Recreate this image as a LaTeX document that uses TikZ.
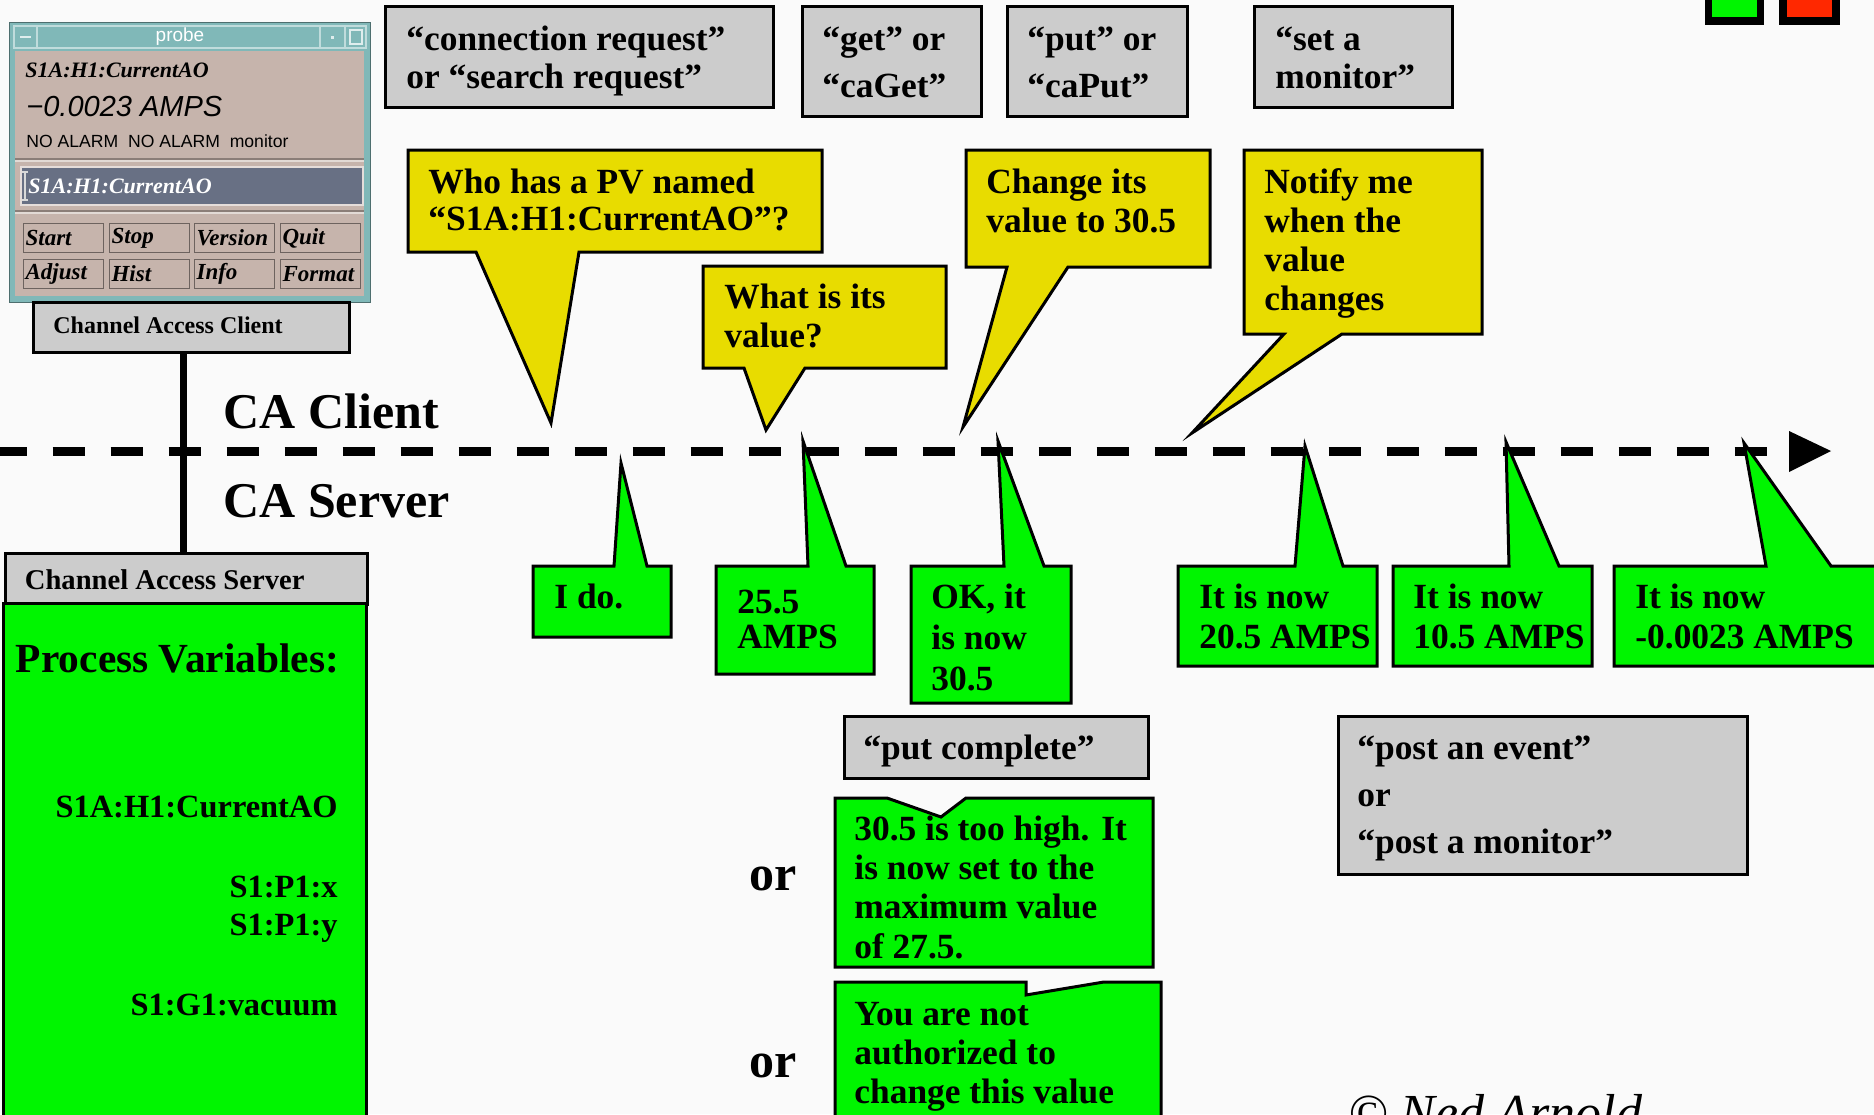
\documentclass[tikz,border=0pt]{standalone}
\usepackage{fontspec}
\setmainfont{Liberation Serif}
\setsansfont{Liberation Sans}
\definecolor{ylw}{RGB}{232,220,0}
\definecolor{grn}{RGB}{0,245,0}
\definecolor{gry}{RGB}{204,204,204}
\definecolor{teal1}{RGB}{128,184,184}
\definecolor{tan1}{RGB}{198,180,172}
\definecolor{fieldc}{RGB}{104,112,132}
\definecolor{bgc}{RGB}{250,250,250}
\definecolor{redsq}{RGB}{255,40,0}
\newcommand{\stk}[2][19.5pt]{\vtop{\baselineskip=#1\relax #2}}
\tikzset{
  big/.style={font=\bfseries\fontsize{17.7}{19.5}\selectfont},
  tx/.style={anchor=base west, inner sep=0pt, big},
  bub/.style={draw=black, line width=1.5pt, line join=miter},
  ybub/.style={bub, fill=ylw},
  gbub/.style={bub, fill=grn},
  gbox/.style={draw=black, line width=1.5pt, fill=gry},
  pbtn/.style={draw=tan1!55!black, fill=tan1, line width=0.6pt, anchor=north west,
    text width=38pt, inner xsep=1pt, inner ysep=0pt, minimum height=14.5pt, align=left,
    font=\bfseries\itshape\fontsize{11.5}{13}\selectfont},
}
\begin{document}
\begin{tikzpicture}[x=0.5pt,y=-0.5pt]
\useasboundingbox (0,0) rectangle (1874,1114);
\clip (0,0) rectangle (1874,1114);
\fill[bgc] (0,0) rectangle (1874,1114);

% ---------- probe window ----------
\fill[teal1] (9,22) rectangle (370,302);
\draw[teal1!60!black, line width=0.5pt] (9,22) rectangle (370,302);
\fill[tan1] (15,51) rectangle (364,296);
\draw[white!50!teal1, line width=0.6pt] (14,26) rectangle (366,48);
\draw[white!50!teal1, line width=0.6pt] (37,26) -- (37,48) (320,26) -- (320,48) (345,26) -- (345,48);
\draw[white!75!teal1, line width=1pt] (20,37) -- (31,37);
\fill[white!75!teal1] (331,36) rectangle (334,39);
\draw[white!75!teal1, line width=0.8pt] (350,30) rectangle (362,44);
\node[font=\sffamily\fontsize{9.5}{11}\selectfont, text=white] (ptitle) at (180,37) {probe};
\node[anchor=base west, inner sep=0pt, font=\bfseries\itshape\fontsize{11}{13}\selectfont] (ppv) at (25,77) {S1A:H1:CurrentAO};
\node[anchor=base west, inner sep=0pt, font=\sffamily\itshape\fontsize{14.5}{16}\selectfont] (pval) at (26,116) {−0.0023 AMPS};
\node[anchor=base west, inner sep=0pt, font=\sffamily\fontsize{8.8}{10}\selectfont] (palarm) at (26,147) {NO ALARM\ \ NO ALARM\ \ monitor};
\draw[tan1!70!black, line width=0.6pt] (15,159) -- (364,159);
\draw[white!50!tan1, line width=0.6pt] (15,161) -- (364,161);
\draw[fill=fieldc, draw=white!55!tan1, line width=1pt] (21,167) rectangle (363,205);
\draw[white!70!gray, line width=0.8pt] (25,172) -- (25,200) (22,172) -- (28,172) (22,200) -- (28,200);
\node[anchor=base west, inner sep=0pt, text=white, font=\bfseries\itshape\fontsize{11}{13}\selectfont] (pfield) at (28,193) {S1A:H1:CurrentAO};
\draw[tan1!70!black, line width=0.6pt] (15,211) -- (364,211);
\draw[white!50!tan1, line width=0.6pt] (15,213) -- (364,213);
\node[pbtn] (bstart) at (23,223) {Start};
\node[pbtn] (bstop) at (109,223) {Stop};
\node[pbtn] (bver) at (194,223) {Version};
\node[pbtn] (bquit) at (280,223) {Quit};
\node[pbtn] (badj) at (23,259) {Adjust};
\node[pbtn] (bhist) at (109,259) {Hist};
\node[pbtn] (binfo) at (194,259) {Info};
\node[pbtn] (bfmt) at (280,259) {Format};

% ---------- client / server boxes ----------
\node[gbox, anchor=north west, minimum width=158pt, minimum height=25pt, inner sep=0pt] (cac) at (32,301) {};
\node[anchor=base west, inner sep=0pt, font=\bfseries\fontsize{12}{14}\selectfont] (cactxt) at (53,333) {Channel Access Client};
\node[gbox, anchor=north west, minimum width=181pt, minimum height=25.5pt, inner sep=0pt] (cas) at (3.6,552) {};
\node[anchor=base west, inner sep=0pt, font=\bfseries\fontsize{14.3}{16}\selectfont] (castxt) at (24.5,589) {Channel Access Server};
\draw[fill=grn, line width=1.5pt] (3.6,603) rectangle (366,1140);
\coordinate (vx) at (183,0);
\draw[line width=3.5pt] (cac.south -| vx) -- (cas.north -| vx);
\node[anchor=base west, inner sep=0pt, font=\bfseries\fontsize{20.7}{24}\selectfont] (pvhead) at (15.6,672) {Process Variables:};
\node[anchor=base east, inner sep=0pt, font=\bfseries\fontsize{16.2}{19}\selectfont] (pva) at (338,817) {S1A:H1:CurrentAO};
\node[anchor=base east, inner sep=0pt, font=\bfseries\fontsize{16.2}{19}\selectfont] (pvb) at (338,897) {S1:P1:x};
\node[anchor=base east, inner sep=0pt, font=\bfseries\fontsize{16.2}{19}\selectfont] (pvc) at (338,935) {S1:P1:y};
\node[anchor=base east, inner sep=0pt, font=\bfseries\fontsize{16.2}{19}\selectfont] (pvd) at (338,1015) {S1:G1:vacuum};

% ---------- time line ----------
\coordinate (tl0) at (-5.4,451);
\coordinate (tl1) at (1767,451);
\draw[line width=4.5pt, dash pattern=on 16pt off 13pt] (tl0) -- (tl1);
\fill (1789,431) -- (1831,451) -- (1789,472) -- cycle;
\node[anchor=base west, inner sep=0pt, font=\bfseries\fontsize{25}{30}\selectfont] (lclient) at (223,428) {CA Client};
\node[anchor=base west, inner sep=0pt, font=\bfseries\fontsize{25}{30}\selectfont] (lserver) at (223,517) {CA Server};

% ---------- top gray boxes ----------
\draw[gbox] (385,6) rectangle (773,107);
\node[tx] (q1) at (406,50) {\stk[19pt]{\hbox{“connection request”}\hbox{or “search request”}}};
\draw[gbox] (802,6) rectangle (981,116);
\node[tx] (q2) at (822,50) {\stk[23.5pt]{\hbox{“get” or}\hbox{“caGet”}}};
\draw[gbox] (1007,6) rectangle (1187,116);
\node[tx] (q3) at (1027,50) {\stk[23.5pt]{\hbox{“put” or}\hbox{“caPut”}}};
\draw[gbox] (1254,6) rectangle (1452,107);
\node[tx] (q4) at (1275,50) {\stk[19pt]{\hbox{“set a}\hbox{monitor”}}};

% status squares
\fill[black] (1705,-5) rectangle (1764,25);
\fill[grn] (1712,-5) rectangle (1757,17);
\fill[black] (1779,-5) rectangle (1840,25);
\fill[redsq] (1787,-5) rectangle (1832,17);

% ---------- yellow (client) bubbles ----------
\draw[ybub] (408,150) -- (822,150) -- (822,252) -- (579,252) -- (551,423) -- (476,252) -- (408,252) -- cycle;
\node[tx] (y1) at (428,193) {\stk[18.5pt]{\hbox{Who has a PV named}\hbox{“S1A:H1:CurrentAO”?}}};
\draw[ybub] (703,266) -- (946,266) -- (946,368) -- (805,368) -- (766,430) -- (744,368) -- (703,368) -- cycle;
\node[tx] (y2) at (724,308) {\stk[19.5pt]{\hbox{What is its}\hbox{value?}}};
\draw[ybub] (966,150) -- (1210,150) -- (1210,267) -- (1068,267) -- (963,427) -- (1007,267) -- (966,267) -- cycle;
\node[tx] (y3) at (986,193) {\stk[19.5pt]{\hbox{Change its}\hbox{value to 30.5}}};
\draw[ybub] (1244,150) -- (1482,150) -- (1482,334) -- (1342,334) -- (1192,433) -- (1284,334) -- (1244,334) -- cycle;
\node[tx] (y4) at (1264,193) {\stk[19.5pt]{\hbox{Notify me}\hbox{when the}\hbox{value}\hbox{changes}}};

% ---------- green (server) bubbles ----------
\draw[gbub] (533,566) -- (614,566) -- (621,463) -- (647,566) -- (671,566) -- (671,637) -- (533,637) -- cycle;
\node[tx] (g1) at (554,608) {I do.};
\draw[gbub] (716,566) -- (808,566) -- (803,441) -- (846,566) -- (874,566) -- (874,674) -- (716,674) -- cycle;
\node[tx] (g2) at (737,613) {\stk[17.5pt]{\hbox{25.5}\hbox{AMPS}}};
\draw[gbub] (911,566) -- (1004,566) -- (998,441) -- (1044,566) -- (1071,566) -- (1071,703) -- (911,703) -- cycle;
\node[tx] (g3) at (931,608) {\stk[20.5pt]{\hbox{OK, it}\hbox{is now}\hbox{30.5}}};
\draw[gbub] (1178,566) -- (1295,566) -- (1305,446) -- (1343,566) -- (1377,566) -- (1377,666) -- (1178,666) -- cycle;
\node[tx] (g4) at (1199,608) {\stk[20pt]{\hbox{It is now}\hbox{20.5 AMPS}}};
\draw[gbub] (1393,566) -- (1509,566) -- (1506,442) -- (1559,566) -- (1592,566) -- (1592,666) -- (1393,666) -- cycle;
\node[tx] (g5) at (1413,608) {\stk[20pt]{\hbox{It is now}\hbox{10.5 AMPS}}};
\draw[gbub] (1614,566) -- (1766,566) -- (1744,443) -- (1831,566) -- (1900,566) -- (1900,666) -- (1614,666) -- cycle;
\node[tx] (g6) at (1635,608) {\stk[20pt]{\hbox{It is now}\hbox{-0.0023 AMPS}}};

% ---------- lower boxes ----------
\draw[gbox] (844,716) rectangle (1148,778);
\node[tx] (pc) at (863,759) {“put complete”};
\draw[gbox] (1338,716) rectangle (1747,874);
\node[tx] (pe) at (1357,759) {\stk[23.5pt]{\hbox{“post an event”}\hbox{or}\hbox{“post a monitor”}}};
\draw[gbub] (835,798) -- (887,798) -- (941,817) -- (966,798) -- (1153,798) -- (1153,967) -- (835,967) -- cycle;
\node[tx] (g7) at (854,840) {\stk[19.7pt]{\hbox{30.5 is too high. It}\hbox{is now set to the}\hbox{maximum value}\hbox{of 27.5.}}};
\draw[gbub] (835,982) -- (1026,982) -- (1026,995) -- (1104,982) -- (1161,982) -- (1161,1140) -- (835,1140) -- cycle;
\node[tx] (g8) at (854,1025) {\stk[19.5pt]{\hbox{You are not}\hbox{authorized to}\hbox{change this value}}};
\node[anchor=base west, inner sep=0pt, font=\bfseries\fontsize{25}{30}\selectfont] (or1) at (749,890) {or};
\node[anchor=base west, inner sep=0pt, font=\bfseries\fontsize{25}{30}\selectfont] (or2) at (749,1077) {or};
\node[anchor=base west, inner sep=0pt, font=\itshape\fontsize{26}{30}\selectfont] (copy) at (1348,1130) {© Ned Arnold};
\end{tikzpicture}
\end{document}
